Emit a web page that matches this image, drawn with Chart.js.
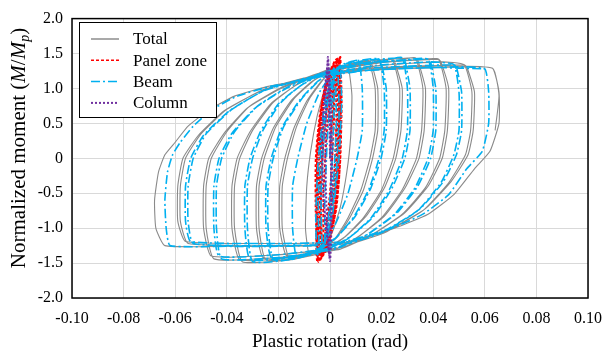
<!DOCTYPE html>
<html>
<head>
<meta charset="utf-8">
<script src="https://cdn.jsdelivr.net/npm/chart.js@4/dist/chart.umd.min.js"></script>
<style>
  html, body { margin: 0; padding: 0; background: #fff; }
  #chart { display: block; }
</style>
</head>
<body>
<canvas id="chart" width="605" height="353"></canvas>
<script>
// axis ticks
const xTickValues = [-0.1, -0.08, -0.06, -0.04, -0.02, 0, 0.02, 0.04, 0.06, 0.08, 0.1];
const xTickLabels = ['-0.10', '-0.08', '-0.06', '-0.04', '-0.02', '0', '0.02', '0.04', '0.06', '0.08', '0.10'];
const yTickValues = [-2, -1.5, -1, -0.5, 0, 0.5, 1, 1.5, 2];
const yTickLabels = ['-2.0', '-1.5', '-1.0', '-0.5', '0', '0.5', '1.0', '1.5', '2.0'];

const seriesNames = ['Total', 'Panel zone', 'Beam', 'Column'];

// plastic rotation (rad), normalized moment M/Mp, one array per cycle
const totalCycles = [
  [[0, 0], [0.001, 0.6], [0.002, 1.0], [0.003, 1.22], [0.0035, 0.8], [0.003, 0.1], [0.0015, -0.6], [0, -1.0], [-0.003, -1.24],
   [-0.0035, -0.8], [-0.003, -0.1], [-0.0015, 0.6], [0, 1.0], [0.003, 1.22], [0.005, 1.3]],
  [[0.007, 1.33], [0.0085, 0.9], [0.008, 0.3], [0.0065, -0.2], [0.004, -0.7], [0.001, -1.05], [-0.003, -1.3], [-0.008, -1.38],
   [-0.0095, -1.0], [-0.009, -0.4], [-0.0075, 0.1], [-0.005, 0.6], [-0.002, 1.0], [0.002, 1.25], [0.007, 1.33], [0.011, 1.38]],
  [[0.015, 1.4], [0.0175, 1.0], [0.0175, 0.4], [0.0155, 0.0], [0.012, -0.45], [0.007, -0.85], [0.002, -1.15], [-0.004, -1.33],
   [-0.01, -1.4], [-0.016, -1.42], [-0.0185, -1.0], [-0.0185, -0.4], [-0.0165, 0.0], [-0.013, 0.45], [-0.008, 0.85],
   [-0.002, 1.15], [0.004, 1.3], [0.01, 1.37], [0.015, 1.4]],
  [[0.016, 1.37], [0.0185, 1.0], [0.0185, 0.4], [0.0165, 0.0], [0.013, -0.45], [0.008, -0.83], [0.003, -1.12], [-0.003, -1.3],
   [-0.01, -1.37], [-0.017, -1.39], [-0.0195, -1.0], [-0.0195, -0.4], [-0.0175, 0.0], [-0.014, 0.43], [-0.009, 0.82],
   [-0.003, 1.12], [0.003, 1.28], [0.01, 1.35], [0.016, 1.37]],
  [[0.024, 1.42], [0.027, 1.0], [0.0265, 0.4], [0.0245, 0.0], [0.02, -0.45], [0.013, -0.85], [0.005, -1.15], [-0.003, -1.33],
   [-0.013, -1.43], [-0.025, -1.45], [-0.0275, -1.0], [-0.0275, -0.4], [-0.0255, 0.0], [-0.021, 0.45], [-0.014, 0.85],
   [-0.006, 1.12], [0.003, 1.3], [0.014, 1.39], [0.024, 1.42]],
  [[0.025, 1.39], [0.028, 1.0], [0.0275, 0.4], [0.0255, 0.0], [0.021, -0.43], [0.014, -0.83], [0.006, -1.12], [-0.002, -1.3],
   [-0.013, -1.4], [-0.026, -1.42], [-0.0285, -1.0], [-0.0285, -0.4], [-0.0265, 0.0], [-0.022, 0.43], [-0.015, 0.83],
   [-0.007, 1.1], [0.002, 1.28], [0.014, 1.36], [0.025, 1.39]],
  [[0.033, 1.44], [0.036, 1.0], [0.0355, 0.4], [0.0335, 0.0], [0.028, -0.45], [0.02, -0.85], [0.01, -1.15], [0.001, -1.32],
   [-0.015, -1.45], [-0.034, -1.48], [-0.037, -1.0], [-0.037, -0.4], [-0.035, 0.0], [-0.03, 0.4], [-0.022, 0.8],
   [-0.012, 1.08], [0, 1.28], [0.017, 1.4], [0.033, 1.44]],
  [[0.034, 1.41], [0.037, 1.0], [0.0365, 0.4], [0.0345, 0.0], [0.029, -0.43], [0.021, -0.83], [0.011, -1.12], [0.002, -1.3],
   [-0.015, -1.42], [-0.035, -1.45], [-0.038, -1.0], [-0.038, -0.4], [-0.036, 0.0], [-0.031, 0.38], [-0.023, 0.78],
   [-0.013, 1.05], [-0.001, 1.25], [0.017, 1.37], [0.034, 1.41]],
  [[0.042, 1.42], [0.045, 1.0], [0.0445, 0.4], [0.0425, 0.0], [0.037, -0.42], [0.028, -0.8], [0.016, -1.1], [0.004, -1.3],
   [-0.02, -1.42], [-0.045, -1.44], [-0.048, -1.0], [-0.048, -0.4], [-0.046, 0.0], [-0.04, 0.38], [-0.031, 0.75],
   [-0.018, 1.03], [-0.004, 1.22], [0.02, 1.37], [0.042, 1.42]],
  [[0.043, 1.38], [0.046, 1.0], [0.0455, 0.4], [0.0435, 0.0], [0.038, -0.4], [0.029, -0.78], [0.017, -1.08], [0.005, -1.27],
   [-0.02, -1.38], [-0.046, -1.4], [-0.049, -1.0], [-0.049, -0.4], [-0.047, 0.0], [-0.041, 0.36], [-0.032, 0.72],
   [-0.019, 1.0], [-0.005, 1.19], [0.02, 1.33], [0.043, 1.38]],
  [[0.052, 1.34], [0.055, 0.95], [0.0545, 0.4], [0.0525, 0.05], [0.046, -0.35], [0.036, -0.75], [0.022, -1.05], [0.008, -1.22],
   [-0.02, -1.25], [-0.055, -1.22], [-0.058, -0.9], [-0.058, -0.4], [-0.056, 0.0], [-0.05, 0.35], [-0.04, 0.7],
   [-0.026, 0.98], [-0.01, 1.15], [0.015, 1.29], [0.052, 1.34]],
  [[0.053, 1.31], [0.056, 0.95], [0.0555, 0.4], [0.0535, 0.05], [0.047, -0.33], [0.037, -0.72], [0.023, -1.02], [0.009, -1.19],
   [-0.02, -1.22], [-0.056, -1.19], [-0.059, -0.9], [-0.059, -0.4], [-0.057, 0.0], [-0.051, 0.33], [-0.041, 0.68],
   [-0.027, 0.96], [-0.011, 1.13], [0.015, 1.26], [0.053, 1.31]],
  [[0.063, 1.29], [0.0655, 0.95], [0.0655, 0.5], [0.062, 0.1], [0.056, -0.15], [0.048, -0.52], [0.038, -0.8], [0.025, -1.0],
   [0.012, -1.14], [0.002, -1.24], [-0.02, -1.26], [-0.04, -1.26], [-0.064, -1.25], [-0.0675, -1.0], [-0.068, -0.6],
   [-0.0665, -0.2], [-0.064, 0.05], [-0.06, 0.23], [-0.055, 0.46], [-0.047, 0.69], [-0.037, 0.89], [-0.024, 1.03],
   [-0.012, 1.11], [-0.002, 1.21], [0.02, 1.28], [0.04, 1.32], [0.063, 1.29], [0.0655, 0.9], [0.064, 0.4]]
];

const beamCycles = [
  [[0, 0], [0.0005, 0.6], [0.001, 1.0], [0.0015, 1.2], [0.0015, 0.6], [0.0005, -0.3], [-0.001, -1.0], [-0.002, -1.22],
   [-0.002, -0.6], [-0.001, 0.3], [0.0005, 1.0], [0.0015, 1.2]],
  [[0.002, 1.25], [0.0025, 0.5], [0.001, -0.5], [-0.0015, -1.1], [-0.003, -1.3], [-0.0035, -0.5], [-0.002, 0.5],
   [0.0005, 1.1], [0.002, 1.25]],
  [[0.003, 1.3], [0.0035, 0.6], [0.002, -0.4], [-0.001, -1.1], [-0.004, -1.35], [-0.0045, -0.6], [-0.003, 0.4],
   [0, 1.1], [0.003, 1.3]],
  [[0.004, 1.33], [0.0045, 0.8], [0.0035, 0.0], [0.001, -0.8], [-0.002, -1.2], [-0.005, -1.38], [-0.0055, -0.8],
   [-0.0045, 0.0], [-0.002, 0.8], [0.001, 1.2], [0.004, 1.33]],
  [[0.011, 1.4], [0.0125, 1.0], [0.0125, 0.4], [0.0105, 0.0], [0.007, -0.5], [0.002, -0.95], [-0.003, -1.25], [-0.008, -1.38],
   [-0.013, -1.42], [-0.0145, -1.0], [-0.0145, -0.4], [-0.0125, 0.0], [-0.009, 0.5], [-0.004, 0.95], [0.001, 1.22],
   [0.006, 1.35], [0.011, 1.4]],
  [[0.019, 1.42], [0.021, 1.0], [0.021, 0.4], [0.019, 0.0], [0.015, -0.45], [0.009, -0.85], [0.002, -1.15], [-0.005, -1.33],
   [-0.013, -1.43], [-0.022, -1.45], [-0.024, -1.0], [-0.024, -0.4], [-0.022, 0.0], [-0.018, 0.45], [-0.011, 0.85],
   [-0.004, 1.12], [0.004, 1.3], [0.012, 1.39], [0.019, 1.42]],
  [[0.0198, 1.39], [0.0218, 1.0], [0.0218, 0.4], [0.0198, 0.0], [0.0158, -0.43], [0.0098, -0.83], [0.0028, -1.12],
   [-0.0042, -1.3], [-0.0128, -1.4], [-0.0228, -1.42], [-0.0248, -1.0], [-0.0248, -0.4], [-0.0228, 0.0], [-0.0188, 0.43],
   [-0.0118, 0.83], [-0.0048, 1.1], [0.0032, 1.28], [0.012, 1.36], [0.0198, 1.39]],
  [[0.028, 1.44], [0.03, 1.0], [0.03, 0.4], [0.028, 0.0], [0.023, -0.45], [0.016, -0.85], [0.007, -1.15], [-0.002, -1.32],
   [-0.015, -1.45], [-0.03, -1.48], [-0.032, -1.0], [-0.032, -0.4], [-0.03, 0.0], [-0.026, 0.4], [-0.019, 0.8],
   [-0.01, 1.08], [0.001, 1.28], [0.014, 1.4], [0.028, 1.44]],
  [[0.029, 1.41], [0.031, 1.0], [0.031, 0.4], [0.029, 0.0], [0.024, -0.43], [0.017, -0.83], [0.008, -1.12], [-0.001, -1.3],
   [-0.015, -1.42], [-0.031, -1.45], [-0.033, -1.0], [-0.033, -0.4], [-0.031, 0.0], [-0.027, 0.38], [-0.02, 0.78],
   [-0.011, 1.05], [0, 1.25], [0.014, 1.37], [0.029, 1.41]],
  [[0.038, 1.42], [0.04, 1.0], [0.04, 0.4], [0.038, 0.0], [0.033, -0.42], [0.025, -0.8], [0.014, -1.1], [0.002, -1.3],
   [-0.02, -1.42], [-0.042, -1.44], [-0.044, -1.0], [-0.044, -0.4], [-0.042, 0.0], [-0.037, 0.38], [-0.028, 0.75],
   [-0.016, 1.03], [-0.003, 1.22], [0.018, 1.37], [0.038, 1.42]],
  [[0.039, 1.38], [0.041, 1.0], [0.041, 0.4], [0.039, 0.0], [0.034, -0.4], [0.026, -0.78], [0.015, -1.08], [0.003, -1.27],
   [-0.02, -1.38], [-0.043, -1.4], [-0.045, -1.0], [-0.045, -0.4], [-0.043, 0.0], [-0.038, 0.36], [-0.029, 0.72],
   [-0.017, 1.0], [-0.004, 1.19], [0.018, 1.33], [0.039, 1.38]],
  [[0.048, 1.34], [0.05, 0.95], [0.05, 0.4], [0.048, 0.05], [0.043, -0.35], [0.034, -0.75], [0.021, -1.05], [0.007, -1.22],
   [-0.02, -1.25], [-0.053, -1.22], [-0.055, -0.9], [-0.055, -0.4], [-0.053, 0.0], [-0.048, 0.35], [-0.038, 0.7],
   [-0.025, 0.98], [-0.009, 1.15], [0.015, 1.29], [0.048, 1.34]],
  [[0.049, 1.31], [0.051, 0.95], [0.051, 0.4], [0.049, 0.05], [0.044, -0.33], [0.035, -0.72], [0.022, -1.02], [0.008, -1.19],
   [-0.02, -1.22], [-0.054, -1.19], [-0.056, -0.9], [-0.056, -0.4], [-0.054, 0.0], [-0.049, 0.33], [-0.039, 0.68],
   [-0.026, 0.96], [-0.01, 1.13], [0.015, 1.26], [0.049, 1.31]],
  [[0.06, 1.28], [0.0615, 0.95], [0.0615, 0.5], [0.059, 0.1], [0.053, -0.15], [0.046, -0.52], [0.036, -0.8], [0.024, -1.0],
   [0.011, -1.14], [0.001, -1.24], [-0.02, -1.26], [-0.04, -1.26], [-0.062, -1.25], [-0.0635, -1.0], [-0.064, -0.6],
   [-0.063, -0.2], [-0.061, 0.05], [-0.058, 0.23], [-0.053, 0.46], [-0.046, 0.69], [-0.036, 0.89], [-0.023, 1.03],
   [-0.011, 1.11], [-0.001, 1.21], [0.02, 1.27], [0.04, 1.3], [0.06, 1.28]]
];

const panelCycles = [
  [[0, 0], [0.001, 0.8], [0.0015, 1.15], [0.0015, 0.5], [0, -0.5], [-0.002, -1.1], [-0.0025, -1.2], [-0.0025, -0.5],
   [-0.001, 0.5], [0.001, 1.1], [0.0015, 1.15]],
  [[0.002, 1.25], [0.0025, 0.6], [0.0015, -0.3], [-0.0015, -1.0], [-0.003, -1.3], [-0.0035, -0.6], [-0.0025, 0.3],
   [-0.0005, 0.9], [0.002, 1.25]],
  [[0.0025, 1.3], [0.003, 0.6], [0.002, -0.3], [-0.001, -1.0], [-0.0035, -1.35], [-0.004, -0.6], [-0.003, 0.3],
   [-0.001, 0.9], [0.001, 1.2], [0.0025, 1.3]],
  [[0.003, 1.36], [0.0035, 0.7], [0.003, -0.1], [0.001, -0.9], [-0.002, -1.3], [-0.004, -1.4], [-0.0045, -0.7],
   [-0.004, 0.1], [-0.002, 0.9], [0.0005, 1.25], [0.003, 1.36]],
  [[0.0035, 1.42], [0.004, 0.8], [0.0035, 0.0], [0.002, -0.7], [-0.001, -1.2], [-0.0045, -1.46], [-0.005, -0.8],
   [-0.005, 0.0], [-0.0035, 0.6], [-0.001, 1.1], [0.0015, 1.35], [0.0035, 1.42]],
  [[0.004, 1.45], [0.0045, 0.8], [0.004, 0.0], [0.0025, -0.7], [-0.0005, -1.2], [-0.0045, -1.48], [-0.0055, -0.8],
   [-0.0055, 0.0], [-0.004, 0.6], [-0.0015, 1.1], [0.002, 1.4], [0.004, 1.45]],
  [[0.0038, 1.43], [0.0042, 0.6], [0.0035, -0.3], [0.0015, -0.9], [-0.002, -1.35], [-0.005, -1.47], [-0.0052, -0.6],
   [-0.0048, 0.2], [-0.003, 0.8], [0, 1.25], [0.0038, 1.43]],
  [[0.0035, 1.4], [0.0038, 0.7], [0.003, -0.2], [0.0005, -1.0], [-0.004, -1.45], [-0.0048, -0.7], [-0.0042, 0.2],
   [-0.002, 0.9], [0.001, 1.3], [0.0035, 1.4]],
  [[0.0032, 1.38], [0.0036, 0.4], [0.0028, -0.5], [0, -1.15], [-0.0042, -1.44], [-0.0046, -0.4], [-0.0038, 0.5],
   [-0.0015, 1.05], [0.0032, 1.38]]
];

const columnCycles = [
  [[0, 0], [-0.0003, 0.8], [-0.0008, 1.45], [0.0002, 0.9], [0.0008, 0.0], [0.0006, -0.9], [0, -1.47], [-0.0012, -0.9],
   [-0.0018, 0.0], [-0.0015, 0.8], [-0.0008, 1.45]],
  [[-0.0001, 0.7], [0.0004, -0.2], [0.0002, -1.0], [-0.0002, -1.4], [-0.0025, -0.6], [-0.003, 0.3], [-0.002, 1.0],
   [-0.0008, 1.4]]
];

const toPoints = cycles => cycles.flat().map(p => ({ x: p[0], y: p[1] }));

const AREA = { left: 72, top: 14, right: 588, bottom: 298 };
const SERIF = '"Liberation Serif", "DejaVu Serif", serif';

const framePlugin = {
  id: 'frame',
  afterDatasetsDraw(chart) {
    const ctx = chart.ctx;
    const a = chart.chartArea;
    ctx.save();
    ctx.strokeStyle = '#000';
    ctx.lineWidth = 1.5;
    ctx.strokeRect(a.left, a.top, a.right - a.left, a.bottom - a.top);

    // legend box
    const lx = 79, ly = 22, lw = 137, lh = 95;
    ctx.fillStyle = '#fff';
    ctx.fillRect(lx, ly, lw, lh);
    ctx.lineWidth = 1;
    ctx.strokeRect(lx + 0.5, ly + 0.5, lw, lh);
    const styles = [
      { color: '#8c8c8c', dash: [], width: 1.5 },
      { color: '#ff0000', dash: [3, 2], width: 1.5 },
      { color: '#00b0f0', dash: [9, 3, 2, 3], width: 1.5 },
      { color: '#7030a0', dash: [2, 2], width: 2 }
    ];
    ctx.font = '17px ' + SERIF;
    ctx.textBaseline = 'middle';
    seriesNames.forEach((name, i) => {
      const y = 39 + i * 21.3;
      ctx.beginPath();
      ctx.setLineDash(styles[i].dash);
      ctx.strokeStyle = styles[i].color;
      ctx.lineWidth = styles[i].width;
      ctx.moveTo(91, y);
      ctx.lineTo(119, y);
      ctx.stroke();
      ctx.setLineDash([]);
      ctx.fillStyle = '#000';
      ctx.fillText(name, 133, y + 1);
    });

    // axis titles
    ctx.font = '19px ' + SERIF;
    ctx.textAlign = 'center';
    ctx.textBaseline = 'alphabetic';
    ctx.fillText('Plastic rotation (rad)', (a.left + a.right) / 2, 347);

    ctx.translate(25, 148);
    ctx.rotate(-Math.PI / 2);
    const parts = [
      ['Normalized moment (', '21px ' + SERIF, 0],
      ['M', 'italic 21px ' + SERIF, 0],
      ['/', '21px ' + SERIF, 0],
      ['M', 'italic 21px ' + SERIF, 0],
      ['p', 'italic 14px ' + SERIF, 4],
      [')', '21px ' + SERIF, 0]
    ];
    let total = 0;
    parts.forEach(p => { ctx.font = p[1]; total += ctx.measureText(p[0]).width; });
    let x = -total / 2;
    ctx.textAlign = 'left';
    parts.forEach(p => {
      ctx.font = p[1];
      ctx.fillText(p[0], x, p[2]);
      x += ctx.measureText(p[0]).width;
    });
    ctx.restore();
  }
};

new Chart(document.getElementById('chart'), {
  type: 'scatter',
  data: {
    datasets: [
      {
        label: seriesNames[0],
        data: toPoints(totalCycles),
        showLine: true,
        borderColor: '#8a8a8a',
        borderWidth: 1.1,
        pointRadius: 0,
        tension: 0.15,
        order: 4
      },
      {
        label: seriesNames[1],
        data: toPoints(panelCycles),
        showLine: true,
        borderColor: '#ff0000',
        borderWidth: 2,
        borderDash: [3, 2],
        pointRadius: 0,
        tension: 0.2,
        order: 3
      },
      {
        label: seriesNames[2],
        data: toPoints(beamCycles),
        showLine: true,
        borderColor: '#00b0f0',
        borderWidth: 1.6,
        borderDash: [9, 3, 2, 3],
        pointRadius: 0,
        tension: 0.15,
        order: 2
      },
      {
        label: seriesNames[3],
        data: toPoints(columnCycles),
        showLine: true,
        borderColor: '#7030a0',
        borderWidth: 2,
        borderDash: [2, 2],
        pointRadius: 0,
        tension: 0.2,
        order: 1
      }
    ]
  },
  options: {
    responsive: false,
    animation: false,
    devicePixelRatio: 1,
    layout: { padding: { left: 0, top: AREA.top, right: 605 - AREA.right, bottom: 0 } },
    plugins: {
      legend: { display: false },
      tooltip: { enabled: false }
    },
    scales: {
      x: {
        type: 'linear',
        min: -0.1,
        max: 0.1,
        afterBuildTicks: scale => { scale.ticks = xTickValues.map(v => ({ value: v })); },
        afterFit: scale => {
          scale.height = 353 - AREA.bottom;
          scale.paddingLeft = 0;
          scale.paddingRight = 0;
        },
        ticks: {
          callback: (value, index) => xTickLabels[index],
          color: '#000',
          font: { family: SERIF, size: 16 },
          padding: 11,
          maxRotation: 0
        },
        grid: { color: '#d9d9d9', lineWidth: 1, drawTicks: false },
        border: { display: false }
      },
      y: {
        type: 'linear',
        min: -2,
        max: 2,
        afterBuildTicks: scale => { scale.ticks = yTickValues.map(v => ({ value: v })); },
        afterFit: scale => { scale.width = AREA.left; },
        ticks: {
          callback: (value, index) => yTickLabels[index],
          color: '#000',
          font: { family: SERIF, size: 16 },
          padding: 9
        },
        grid: { color: '#d9d9d9', lineWidth: 1, drawTicks: false },
        border: { display: false }
      }
    }
  },
  plugins: [framePlugin]
});
</script>
</body>
</html>
